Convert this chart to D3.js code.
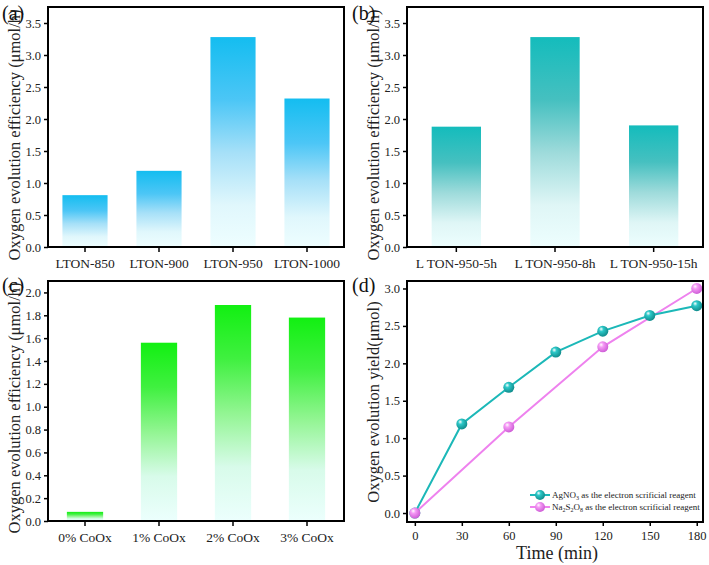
<!DOCTYPE html>
<html><head><meta charset="utf-8">
<script src="https://cdn.jsdelivr.net/npm/d3@7"></script>
<style>body{margin:0;background:#fff}</style>
</head><body><svg id="c" width="709" height="565" font-family="Liberation Serif"></svg>
<script>
// ---- data ----
const catsA = ["LTON-850","LTON-900","LTON-950","LTON-1000"];
const valsA = [0.81, 1.19, 3.28, 2.32];
const catsB = ["L TON-950-5h","L TON-950-8h","L TON-950-15h"];
const valsB = [1.88, 3.28, 1.90];
const catsC = ["0% CoOx","1% CoOx","2% CoOx","3% CoOx"];
const valsC = [0.08, 1.56, 1.89, 1.78];
const timeD = [0, 30, 60, 90, 120, 150, 180];
const agno3 = [0, 1.19, 1.68, 2.15, 2.43, 2.64, 2.77];
const timeNa = [0, 60, 120, 180];
const na2s2o8 = [0, 1.15, 2.22, 3.0];
const ticksAB = [0,0.5,1,1.5,2,2.5,3,3.5];
const ticksC = [0,0.2,0.4,0.6,0.8,1.0,1.2,1.4,1.6,1.8,2.0];
const ticksDy = [0,0.5,1,1.5,2,2.5,3];
const ticksDx = [0,30,60,90,120,150,180];

const FONT = "Liberation Serif";
const svg = d3.select("#c");
const defs = svg.append("defs");
function grad(id, stops){
  const g = defs.append("linearGradient").attr("id",id).attr("x1",0).attr("y1",0).attr("x2",0).attr("y2",1);
  stops.forEach(s=>g.append("stop").attr("offset",s[0]).attr("stop-color",s[1]));
}
grad("gA",[["0%","#14bdf0"],["30%","#4cc6f6"],["55%","#a6e0f8"],["80%","#e0f7fc"],["100%","#eefeff"]]);
grad("gB",[["0%","#14bcbc"],["30%","#46c0c0"],["55%","#9edbdb"],["80%","#dff6f6"],["100%","#edfefe"]]);
grad("gC",[["0%","#12f012"],["25%","#40f040"],["50%","#92f592"],["75%","#d8fbea"],["100%","#ecfffd"]]);
function sphere(id, base, dark){
  const g = defs.append("radialGradient").attr("id",id).attr("cx","40%").attr("cy","38%").attr("r","60%").attr("fx","35%").attr("fy","30%");
  g.append("stop").attr("offset","0%").attr("stop-color","#ffffff");
  g.append("stop").attr("offset","35%").attr("stop-color",base);
  g.append("stop").attr("offset","100%").attr("stop-color",dark);
}
sphere("sAg","#2cc8c8","#138f8f");
sphere("sNa","#f59af5","#d060d8");

function frame(x0,x1,y0,y1){
  svg.append("rect").attr("x",x0).attr("y",y0).attr("width",x1-x0).attr("height",y1-y0)
    .attr("fill","none").attr("stroke","#000").attr("stroke-width",2);
}
function styleAxis(g, size){
  g.attr("font-family", FONT).attr("font-size", size);
  g.select(".domain").remove();
  g.selectAll("line").attr("stroke","#000").attr("stroke-width",1.5);
  g.selectAll("text").attr("fill","#222");
}
function yAxis(y, x0, ticks, fmt){
  const g = svg.append("g").attr("transform",`translate(${x0},0)`)
    .call(d3.axisLeft(y).tickValues(ticks).tickFormat(d3.format(fmt)).tickSize(4).tickPadding(3));
  styleAxis(g, 12.5);
}
function xAxisBand(x, y1, size){
  const g = svg.append("g").attr("transform",`translate(0,${y1})`)
    .call(d3.axisBottom(x).tickSize(5).tickPadding(6));
  styleAxis(g, size);
}
function yTitle(text, cx, cy, size){
  svg.append("text").attr("transform",`translate(${cx},${cy}) rotate(-90)`).attr("text-anchor","middle")
    .attr("dominant-baseline","central").attr("font-size",size).attr("fill","#222").text(text);
}
function label(t,x,y){ svg.append("text").attr("x",x).attr("y",y).attr("font-size",20).attr("fill","#111").text(t); }

function barPanel(cats, vals, x0,x1,y0,y1, ymax, ticks, fmt, gid, pad, tsize){
  const x = d3.scaleBand().domain(cats).range([x0,x1]).paddingInner(pad).paddingOuter(pad/2);
  const y = d3.scaleLinear().domain([0,ymax]).range([y1,y0]);
  svg.append("g").selectAll("rect").data(vals).join("rect")
    .attr("x",(d,i)=>x(cats[i])).attr("width",x.bandwidth())
    .attr("y",d=>y(d)).attr("height",d=>y(0)-y(d)).attr("fill",`url(#${gid})`);
  frame(x0,x1,y0,y1);
  yAxis(y,x0,ticks,fmt);
  xAxisBand(x,y1,tsize);
}

// (a)
barPanel(catsA, valsA, 48,344,7,247, 3.75, ticksAB, ".1f", "gA", 0.39, 13.5);
yTitle("Oxygen evolution efficiency (μmol/h)", 14, 135, 16.5);
label("(a)", 2, 20);
// (b)
barPanel(catsB, valsB, 407,703,7,247, 3.75, ticksAB, ".1f", "gB", 0.5, 13.5);
yTitle("Oxygen evolution efficiency (μmol/h)", 373, 135, 16.5);
label("(b)", 352, 20);
// (c)
barPanel(catsC, valsC, 48,344,281,521, 2.1, ticksC, ".1f", "gC", 0.51, 13.5);
yTitle("Oxygen evolution efficiency (μmol/h)", 14, 408, 16.5);
label("(c)", 2, 292);

// (d)
{
  const x0=407,x1=703,y0=281,y1=522;
  const x = d3.scaleLinear().domain([-5,184]).range([x0,x1]);
  const y = d3.scaleLinear().domain([-0.12,3.1]).range([y1,y0]);
  const line = d3.line().x(d=>x(d[0])).y(d=>y(d[1]));
  const sAg = timeD.map((t,i)=>[t,agno3[i]]);
  const sNa = timeNa.map((t,i)=>[t,na2s2o8[i]]);
  svg.append("path").datum(sNa).attr("d",line).attr("fill","none").attr("stroke","#ee82ee").attr("stroke-width",2);
  svg.append("path").datum(sAg).attr("d",line).attr("fill","none").attr("stroke","#1cb8b8").attr("stroke-width",2);
  svg.append("g").selectAll("circle").data(sAg).join("circle")
    .attr("cx",d=>x(d[0])).attr("cy",d=>y(d[1])).attr("r",5.5).attr("fill","url(#sAg)");
  svg.append("g").selectAll("circle").data(sNa).join("circle")
    .attr("cx",d=>x(d[0])).attr("cy",d=>y(d[1])).attr("r",5.5).attr("fill","url(#sNa)");
  frame(x0,x1,y0,y1);
  yAxis(y,x0,ticksDy,".1f");
  const g = svg.append("g").attr("transform",`translate(0,${y1})`)
    .call(d3.axisBottom(x).tickValues(ticksDx).tickFormat(d3.format("d")).tickSize(4).tickPadding(5));
  styleAxis(g, 12.5);
  svg.append("text").attr("x",557).attr("y",559).attr("text-anchor","middle").attr("font-size",18).attr("fill","#222").text("Time (min)");
  yTitle("Oxygen evolution yield(μmol)", 373, 402, 16.5);
  label("(d)", 352, 292);
  // legend
  const leg = [
    {c:"#1cb8b8", s:"sAg", parts:[["AgNO",""],["3","sub"],[" as the electron scrificial reagent",""]], y:495},
    {c:"#ee82ee", s:"sNa", parts:[["Na",""],["2","sub"],["S",""],["2","sub"],["O",""],["8","sub"],[" as the electron scrificial reagent",""]], y:507}
  ];
  leg.forEach(l=>{
    svg.append("line").attr("x1",530).attr("x2",550).attr("y1",l.y).attr("y2",l.y).attr("stroke",l.c).attr("stroke-width",2);
    svg.append("circle").attr("cx",540).attr("cy",l.y).attr("r",5).attr("fill",`url(#${l.s})`);
    const t = svg.append("text").attr("x",552).attr("y",l.y+3).attr("font-size",9).attr("fill","#222");
    l.parts.forEach((p,i)=>{
      const ts = t.append("tspan").text(p[0]);
      if(p[1]==="sub") ts.attr("font-size",6).attr("dy",2);
      else if(i>0) ts.attr("dy",-2);
    });
  });
}
svg.selectAll("text").attr("font-family", FONT).style("font-family", FONT);
</script></body></html>
